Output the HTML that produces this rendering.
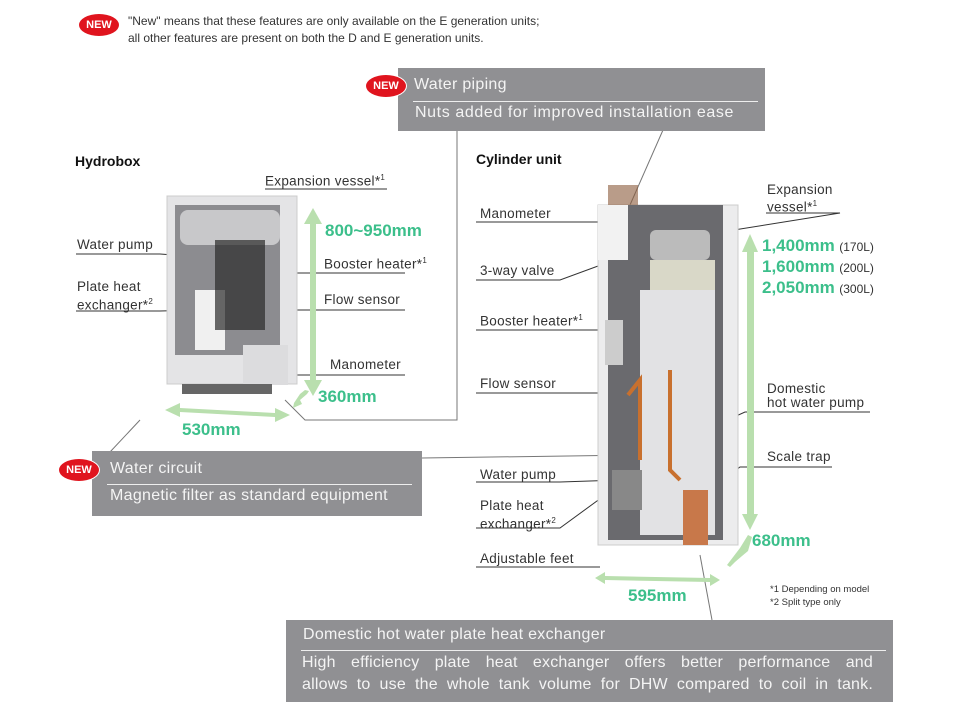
<!DOCTYPE html>
<html><head><meta charset="utf-8"><style>
body{margin:0;width:957px;height:709px;background:#fff;position:relative;overflow:hidden;font-family:"Liberation Sans",sans-serif;color:#333}
.a{position:absolute;white-space:nowrap}
.l{font-size:13.5px;color:#333;letter-spacing:.3px}
.g{color:#3cbf8b;font-weight:bold;font-size:17px}
.box{position:absolute;background:#909093;color:#f4f4f4}
.new{position:absolute;width:40px;height:22px;border-radius:50%;background:#e0141e;color:#fff;font-size:11px;font-weight:bold;text-align:center;line-height:22px;border:1px solid #fff}
.j{position:absolute;left:16px;width:571px;font-size:16px;text-align:justify;text-align-last:justify;letter-spacing:.2px}
</style></head><body>
<svg class="a" style="left:0;top:0" width="957" height="709">
<g stroke="#777" stroke-width="1" fill="none">
<polyline points="457,130 457,420 305,420 285,400"/>
<line x1="663" y1="130" x2="630" y2="205"/>
<line x1="422" y1="458" x2="640" y2="455"/>
<line x1="140" y1="420" x2="110" y2="452"/>
<line x1="700" y1="555" x2="712" y2="620"/>
</g>
<g stroke="#333" stroke-width="1" fill="none">
<polyline points="265,189 387,189"/><polyline points="245,215 245,196"/>
<polyline points="76,254 160,254 215,258"/>
<polyline points="76,311 160,311 200,310"/>
<polyline points="322,273 405,273"/><polyline points="270,273 322,273"/>
<polyline points="322,310 405,310"/><polyline points="268,310 322,310"/>
<polyline points="328,375 405,375"/><polyline points="270,375 328,375"/>
<polyline points="476,222 600,222"/>
<polyline points="476,280 560,280 628,255"/>
<polyline points="476,330 560,330 600,330"/>
<polyline points="476,393 560,393 640,393"/>
<polyline points="476,482 560,482 620,480"/>
<polyline points="476,528 560,528 612,490"/>
<polyline points="476,567 600,567"/>
<polyline points="766,213 840,213 690,237"/>
<polyline points="766,412 870,412 745,412 705,430"/>
<polyline points="766,467 832,467 740,467 710,490"/>
</g>
<g fill="#b9dfae">
<rect x="310" y="222" width="6" height="160"/><polygon points="304,224 313,208 322,224"/><polygon points="304,380 313,396 322,380"/>
<rect x="747" y="250" width="7" height="265"/><polygon points="742,252 750,234 758,252"/><polygon points="742,514 750,530 758,514"/>
<polygon points="165,410 180,403 180,408 275,413 275,408 290,415 275,422 275,417 180,412 180,417"/>
<polygon points="294,403 300,394 305,390 309,391 307,394 300,400 302,404 293,408"/>
<polygon points="727,565 740,548 748,535 752,537 748,551 742,556 735,562 730,567"/>
<polygon points="595,578 605,572 605,576 710,578 710,574 720,580 710,586 710,582 605,580 605,584"/>
</g>
<rect x="167" y="196" width="130" height="188" fill="#e4e4e6" stroke="#ccc"/>
<rect x="175" y="205" width="105" height="150" fill="#8c8c90"/>
<rect x="180" y="210" width="100" height="35" rx="8" fill="#c8c8ca"/>
<rect x="195" y="290" width="30" height="60" fill="#f0f0f0"/>
<rect x="215" y="240" width="50" height="90" fill="#2a2a2a" opacity=".7"/>
<rect x="243" y="345" width="45" height="40" fill="#dcdcde"/>
<rect x="182" y="384" width="90" height="10" fill="#666"/>
<rect x="598" y="205" width="140" height="340" fill="#ececed" stroke="#ccc"/>
<rect x="608" y="205" width="115" height="335" fill="#6a6a6e"/>
<rect x="640" y="290" width="75" height="245" fill="#e2e2e4"/>
<rect x="650" y="230" width="60" height="30" rx="6" fill="#bbb"/>
<rect x="650" y="260" width="65" height="30" fill="#d9d8c8"/>
<rect x="598" y="205" width="30" height="55" fill="#f2f2f2"/>
<rect x="683" y="490" width="25" height="55" fill="#c8784a"/>
<rect x="605" y="320" width="18" height="45" fill="#ccc"/>
<rect x="612" y="470" width="30" height="40" fill="#888"/>
<g stroke="#c8702e" stroke-width="4" fill="none"><polyline points="628,395 640,380 640,460"/><polyline points="670,370 670,470 680,480"/></g>
<rect x="608" y="185" width="30" height="20" fill="#8a5a3a" opacity=".6"/>
</svg>

<div class="new" style="left:78px;top:13px">NEW</div>
<div class="a" style="left:128px;top:13px;font-size:12px;line-height:17px;color:#333">"New" means that these features are only available on the E generation units;<br>all other features are present on both the D and E generation units.</div>

<div class="box" style="left:398px;top:68px;width:367px;height:63px">
<div class="a" style="left:16px;top:8px;font-size:16px;letter-spacing:.3px">Water piping</div>
<div class="a" style="left:15px;top:33px;width:345px;height:1px;background:#eee"></div>
<div class="a" style="left:17px;top:36px;font-size:16px;letter-spacing:.6px">Nuts added for improved installation ease</div>
</div>
<div class="new" style="left:365px;top:74px">NEW</div>

<div class="a" style="left:75px;top:153px;font-size:14px;font-weight:bold;color:#111">Hydrobox</div>
<div class="a" style="left:476px;top:151px;font-size:14px;font-weight:bold;color:#111">Cylinder unit</div>

<div class="a l" style="left:265px;top:173px">Expansion vessel*<sup style="font-size:8px">1</sup></div>
<div class="a l" style="left:77px;top:237px">Water pump</div>
<div class="a l" style="left:77px;top:279px;line-height:15px">Plate heat<br>exchanger*<sup style="font-size:8px">2</sup></div>
<div class="a l" style="left:324px;top:256px">Booster heater*<sup style="font-size:8px">1</sup></div>
<div class="a l" style="left:324px;top:292px">Flow sensor</div>
<div class="a l" style="left:330px;top:357px">Manometer</div>
<div class="a g" style="left:325px;top:221px">800~950mm</div>
<div class="a g" style="left:318px;top:387px">360mm</div>
<div class="a g" style="left:182px;top:420px">530mm</div>

<div class="a l" style="left:480px;top:206px">Manometer</div>
<div class="a l" style="left:480px;top:263px">3-way valve</div>
<div class="a l" style="left:480px;top:313px">Booster heater*<sup style="font-size:8px">1</sup></div>
<div class="a l" style="left:480px;top:376px">Flow sensor</div>
<div class="a l" style="left:480px;top:467px">Water pump</div>
<div class="a l" style="left:480px;top:498px;line-height:15px">Plate heat<br>exchanger*<sup style="font-size:8px">2</sup></div>
<div class="a l" style="left:480px;top:551px">Adjustable feet</div>
<div class="a l" style="left:767px;top:183px;line-height:14px">Expansion<br>vessel*<sup style="font-size:8px">1</sup></div>
<div class="a l" style="left:767px;top:382px;line-height:14px">Domestic<br>hot water pump</div>
<div class="a l" style="left:767px;top:449px">Scale trap</div>
<div class="a" style="left:762px;top:236px;line-height:19px"><span class="g">1,400mm</span> <span style="font-size:12px">(170L)</span><br><span class="g">1,600mm</span> <span style="font-size:12px">(200L)</span><br><span class="g">2,050mm</span> <span style="font-size:12px">(300L)</span></div>
<div class="a g" style="left:752px;top:531px">680mm</div>
<div class="a g" style="left:628px;top:586px">595mm</div>
<div class="a" style="left:770px;top:583px;font-size:9.5px;line-height:13px">*1 Depending on model<br>*2 Split type only</div>

<div class="box" style="left:92px;top:451px;width:330px;height:65px">
<div class="a" style="left:18px;top:9px;font-size:16px;letter-spacing:.3px">Water circuit</div>
<div class="a" style="left:15px;top:33px;width:305px;height:1px;background:#eee"></div>
<div class="a" style="left:18px;top:36px;font-size:16px;letter-spacing:.3px">Magnetic filter as standard equipment</div>
</div>
<div class="new" style="left:58px;top:458px">NEW</div>

<div class="box" style="left:286px;top:620px;width:607px;height:82px">
<div class="a" style="left:17px;top:6px;font-size:16px;letter-spacing:.3px">Domestic hot water plate heat exchanger</div>
<div class="a" style="left:15px;top:30px;width:585px;height:1px;background:#eee"></div>
<div class="j" style="top:34px">High efficiency plate heat exchanger offers better performance and</div>
<div class="j" style="top:56px">allows to use the whole tank volume for DHW compared to coil in tank.</div>
</div>
</body></html>
